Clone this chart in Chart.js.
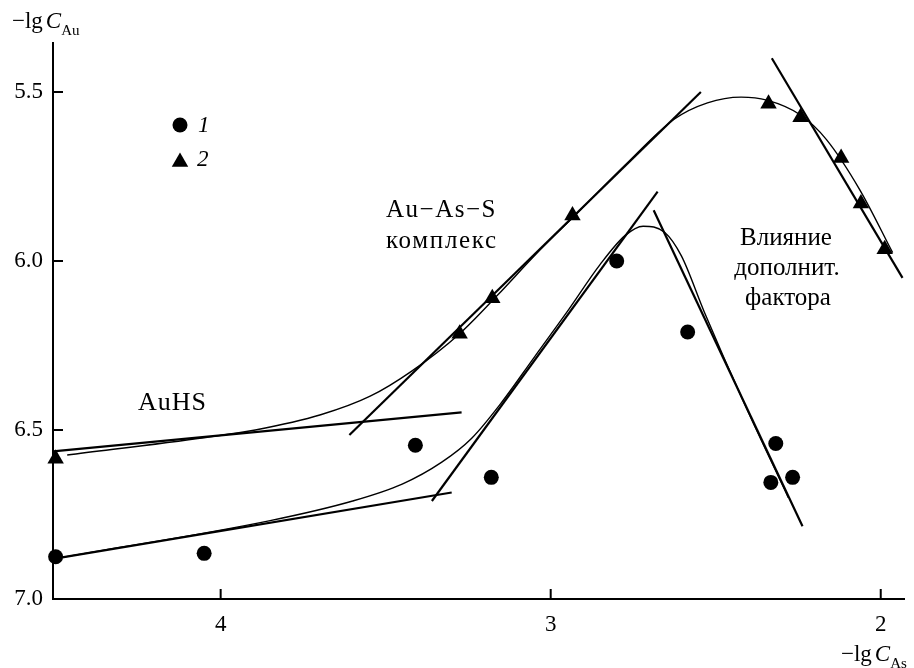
<!DOCTYPE html>
<html>
<head>
<meta charset="utf-8">
<script src="https://cdn.jsdelivr.net/npm/chart.js@4.4.0/dist/chart.umd.min.js"></script>
<style>
  html, body { margin: 0; padding: 0; background: #fff; }
  #wrap { width: 914px; height: 668px; }
</style>
</head>
<body>
<div id="wrap"><canvas id="chart" width="914" height="668"></canvas></div>
<script>
// -lgC_Au vs -lgC_As: measured points (1 circles, 2 triangles), straight fits and smooth curves

const xTicks = [4, 3, 2];
const yTicks = [5.5, 6.0, 6.5, 7.0];

// series 1 (circles)
const s1X = [4.50, 4.05, 3.41, 3.18, 2.80, 2.585, 2.318, 2.333, 2.267];
const s1Y = [6.875, 6.865, 6.545, 6.64, 6.00, 6.21, 6.54, 6.655, 6.64];
// series 2 (triangles)
const s2X = [4.50, 3.276, 3.177, 2.934, 2.34, 2.243, 2.12, 2.06, 1.988];
const s2Y = [6.585, 6.215, 6.11, 5.865, 5.535, 5.575, 5.695, 5.83, 5.965];

// straight fits, [start, end]
const auhs2X = [4.508, 3.27], auhs2Y = [6.563, 6.448];
const auhs1X = [4.48, 3.30], auhs1Y = [6.877, 6.685];
const cplx2X = [3.61, 2.545], cplx2Y = [6.515, 5.50];
const cplx1X = [3.36, 2.676], cplx1Y = [6.71, 5.795];
const fact1X = [2.688, 2.237], fact1Y = [5.85, 6.785];
const fact2X = [2.33, 1.934], fact2Y = [5.40, 6.05];

// smooth curves through the data
const crv2X = [4.465, 4.045, 3.895, 3.697, 3.547, 3.42, 3.276, 3.16, 3.045, 2.916, 2.775, 2.625, 2.525, 2.423, 2.345, 2.243, 2.165, 2.063, 1.964];
const crv2Y = [6.574, 6.522, 6.50, 6.455, 6.40, 6.325, 6.215, 6.10, 5.98, 5.855, 5.717, 5.58, 5.532, 5.515, 5.524, 5.568, 5.64, 5.79, 5.975];
const crv1X = [4.477, 3.85, 3.6, 3.45, 3.33, 3.24, 3.15, 3.05, 2.95, 2.85, 2.775, 2.72, 2.655, 2.604, 2.535, 2.414, 2.28];
const crv1Y = [6.876, 6.768, 6.71, 6.66, 6.595, 6.525, 6.42, 6.285, 6.15, 6.01, 5.925, 5.897, 5.915, 5.985, 6.15, 6.42, 6.70];

const SERIF = '"Liberation Serif", "Times New Roman", serif';
const pts = (xs, ys) => xs.map((x, i) => ({ x, y: ys[i] }));

const fit = (xs, ys) => ({
  data: pts(xs, ys), showLine: true, borderColor: '#000', borderWidth: 2.2,
  pointRadius: 0, clip: false,
});
const curve = (xs, ys) => ({
  data: pts(xs, ys), showLine: true, borderColor: '#000', borderWidth: 1.4,
  pointRadius: 0, cubicInterpolationMode: 'monotone',
});

function varLabel(ctx, x, base, sub) {
  ctx.font = `23px ${SERIF}`;
  ctx.fillText('−lg', x, base);
  x += ctx.measureText('−lg').width + 3;
  ctx.font = `italic 23px ${SERIF}`;
  ctx.fillText('C', x, base);
  x += ctx.measureText('C').width;
  ctx.font = `15px ${SERIF}`;
  ctx.fillText(sub, x, base + 7);
}

const decor = {
  id: 'decor',
  afterDraw(chart) {
    const { ctx, scales: { x, y }, chartArea: a } = chart;
    ctx.save();
    // inward tick marks
    ctx.strokeStyle = '#000';
    ctx.lineWidth = 2;
    ctx.beginPath();
    for (const v of xTicks) {
      const px = x.getPixelForValue(v);
      ctx.moveTo(px, a.bottom); ctx.lineTo(px, a.bottom - 10);
    }
    for (const v of yTicks) {
      const py = y.getPixelForValue(v);
      ctx.moveTo(a.left, py); ctx.lineTo(a.left + 10, py);
    }
    ctx.stroke();

    ctx.fillStyle = '#000';
    ctx.textBaseline = 'alphabetic';
    ctx.textAlign = 'left';
    varLabel(ctx, 12, 28, 'Au');
    varLabel(ctx, 841, 661, 'As');

    // legend
    Chart.helpers.drawPoint(ctx, { pointStyle: 'circle', radius: 7.5, borderWidth: 0 }, 180, 125);
    Chart.helpers.drawPoint(ctx, { pointStyle: 'triangle', radius: 9.5, borderWidth: 0 }, 180, 162);
    ctx.font = `italic 23px ${SERIF}`;
    ctx.textBaseline = 'middle';
    ctx.fillText('1', 198, 126);
    ctx.fillText('2', 197, 160);

    // annotations
    ctx.textBaseline = 'alphabetic';
    ctx.font = `26px ${SERIF}`;
    ctx.letterSpacing = '1px';
    ctx.fillText('AuHS', 138, 410);
    ctx.font = `25px ${SERIF}`;
    ctx.letterSpacing = '1.5px';
    ctx.fillText('Au−As−S', 386, 217);
    ctx.letterSpacing = '1.7px';
    ctx.fillText('комплекс', 386, 248);
    ctx.letterSpacing = '0px';
    ctx.textAlign = 'center';
    ctx.fillText('Влияние', 786, 245);
    ctx.fillText('дополнит.', 787, 275);
    ctx.fillText('фактора', 788, 305);
    ctx.restore();
  },
};

new Chart(document.getElementById('chart'), {
  type: 'scatter',
  data: {
    datasets: [
      { data: pts(s1X, s1Y), pointStyle: 'circle', pointRadius: 7.5, pointBackgroundColor: '#000', pointBorderWidth: 0, clip: false },
      { data: pts(s2X, s2Y), pointStyle: 'triangle', pointRadius: 9.5, pointBackgroundColor: '#000', pointBorderWidth: 0, clip: false },
      fit(auhs2X, auhs2Y),
      fit(auhs1X, auhs1Y),
      fit(cplx2X, cplx2Y),
      fit(cplx1X, cplx1Y),
      fit(fact1X, fact1Y),
      fit(fact2X, fact2Y),
      curve(crv2X, crv2Y),
      curve(crv1X, crv1Y),
    ],
  },
  options: {
    responsive: false,
    animation: false,
    events: [],
    layout: { padding: { top: 43, right: 2, left: 0, bottom: 0 } },
    plugins: { legend: { display: false }, tooltip: { enabled: false } },
    scales: {
      x: {
        type: 'linear',
        reverse: true,
        min: 1.928,
        max: 4.508,
        afterBuildTicks: (s) => { s.ticks = xTicks.map((v) => ({ value: v })); },
        afterFit: (s) => { s.height = 69; },
        grid: { display: false, drawTicks: false },
        border: { display: true, color: '#000', width: 2 },
        ticks: { color: '#000', padding: 12, font: { family: SERIF, size: 23 }, maxRotation: 0 },
      },
      y: {
        type: 'linear',
        reverse: true,
        min: 5.355,
        max: 7.0,
        afterBuildTicks: (s) => { s.ticks = yTicks.map((v) => ({ value: v })); },
        afterFit: (s) => { s.width = 53; },
        grid: { display: false, drawTicks: false },
        border: { display: true, color: '#000', width: 2 },
        ticks: {
          color: '#000', padding: 10, font: { family: SERIF, size: 23 },
          callback: (v) => Number(v).toFixed(1),
        },
      },
    },
  },
  plugins: [decor],
});
</script>
</body>
</html>
